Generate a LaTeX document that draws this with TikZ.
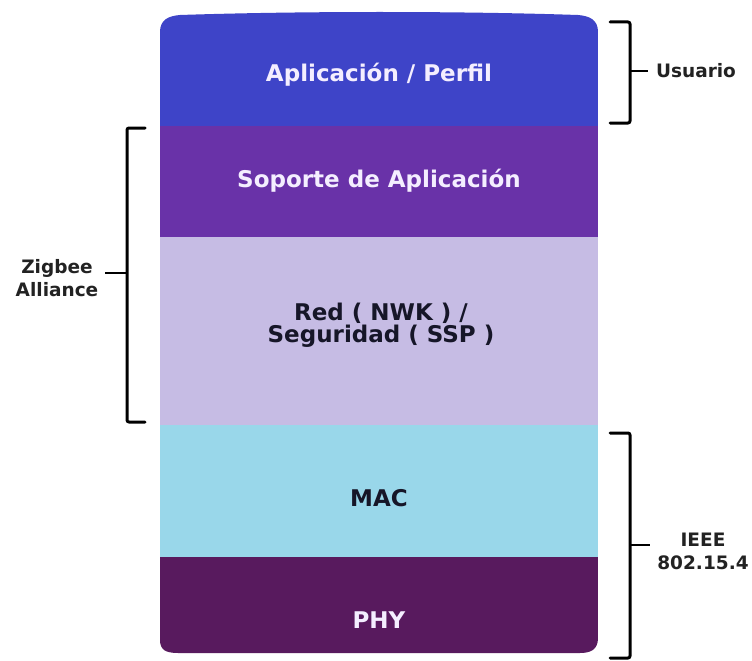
\documentclass[tikz,border=0pt]{standalone}
\usepackage{fontspec}
\setmainfont{DejaVu Sans}
\definecolor{appblue}{RGB}{62,68,200}
\definecolor{apspurple}{RGB}{105,50,168}
\definecolor{nwklav}{RGB}{198,188,228}
\definecolor{macblue}{RGB}{153,215,234}
\definecolor{phyplum}{RGB}{88,26,94}
\definecolor{lighttxt}{RGB}{244,238,255}
\definecolor{darktxt}{RGB}{22,22,40}
\definecolor{sidetxt}{RGB}{34,34,34}
\tikzset{
  layer/.style={draw=none, inner sep=0pt, minimum width=438pt},
  layertext/.style={font=\bfseries\fontsize{23}{21.5}\selectfont, align=center, inner sep=0pt},
  sidelabel/.style={font=\bfseries\fontsize{18.5}{23}\selectfont, text=sidetxt, align=center, inner sep=0pt},
  bracket/.style={line width=3pt, black, line join=round, line cap=round, rounded corners=2pt}
}
\begin{document}
\begin{tikzpicture}[x=1pt, y=-1pt]
\useasboundingbox[fill=white] (0,0) rectangle (752,661);

% protocol stack, clipped to a rounded outline
\begin{scope}
  \clip (160,640) -- (160,32)
    .. controls (160,20) and (168,16) .. (180,15)
    .. controls (300,11) and (460,11) .. (578,15)
    .. controls (590,16) and (598,20) .. (598,32)
    -- (598,638)
    .. controls (598,650) and (590,653) .. (580,653)
    -- (178,653)
    .. controls (166,653) and (160,650) .. (160,640) -- cycle;
  \node[layer, fill=appblue,   minimum height=120pt, anchor=north west] (app) at (160,6)   {};
  \node[layer, fill=apspurple, minimum height=111pt, anchor=north west] (aps) at (160,126) {};
  \node[layer, fill=nwklav,    minimum height=188pt, anchor=north west] (nwk) at (160,237) {};
  \node[layer, fill=macblue,   minimum height=132pt, anchor=north west] (mac) at (160,425) {};
  \node[layer, fill=phyplum,   minimum height=100pt, anchor=north west] (phy) at (160,557) {};
\end{scope}

% layer names
\node[layertext, text=lighttxt] (tapp) at (379,75)  {Aplicación / Perfil};
\node[layertext, text=lighttxt] (taps) at (379,181) {Soporte de Aplicación};
\node[layertext, text=darktxt]  (tnwk) at (381,325) {Red ( NWK ) /\\Seguridad ( SSP )};
\node[layertext, text=darktxt]  (tmac) at (379,498) {MAC};
\node[layertext, text=lighttxt] (tphy) at (379,620) {PHY};

% side labels
\node[sidelabel] (usr) at (696,71)  {Usuario};
\node[sidelabel] (zig) at (57,278)  {Zigbee\\Alliance};
\node[sidelabel] (ieee) at (703,551) {IEEE\\802.15.4};

% bracket end points
\coordinate (u1) at (610,22);  \coordinate (u2) at (610,123);
\coordinate (um) at (630,71);  \coordinate (ut) at (648,71);
\coordinate (z1) at (145,128); \coordinate (z2) at (145,422);
\coordinate (zm) at (127,273); \coordinate (zt) at (105,273);
\coordinate (i1) at (610,433); \coordinate (i2) at (610,658);
\coordinate (im) at (630,545); \coordinate (it) at (650,545);

% brackets and their ticks
\draw[bracket] (u1) -- (630,22) -- (630,123) -- (u2);
\draw[line width=2.5pt] (um) -- (ut);
\draw[bracket] (z1) -- (127,128) -- (127,422) -- (z2);
\draw[line width=2.5pt] (zm) -- (zt);
\draw[bracket] (i1) -- (630,433) -- (630,658) -- (i2);
\draw[line width=2.5pt] (im) -- (it);
\end{tikzpicture}
\end{document}
